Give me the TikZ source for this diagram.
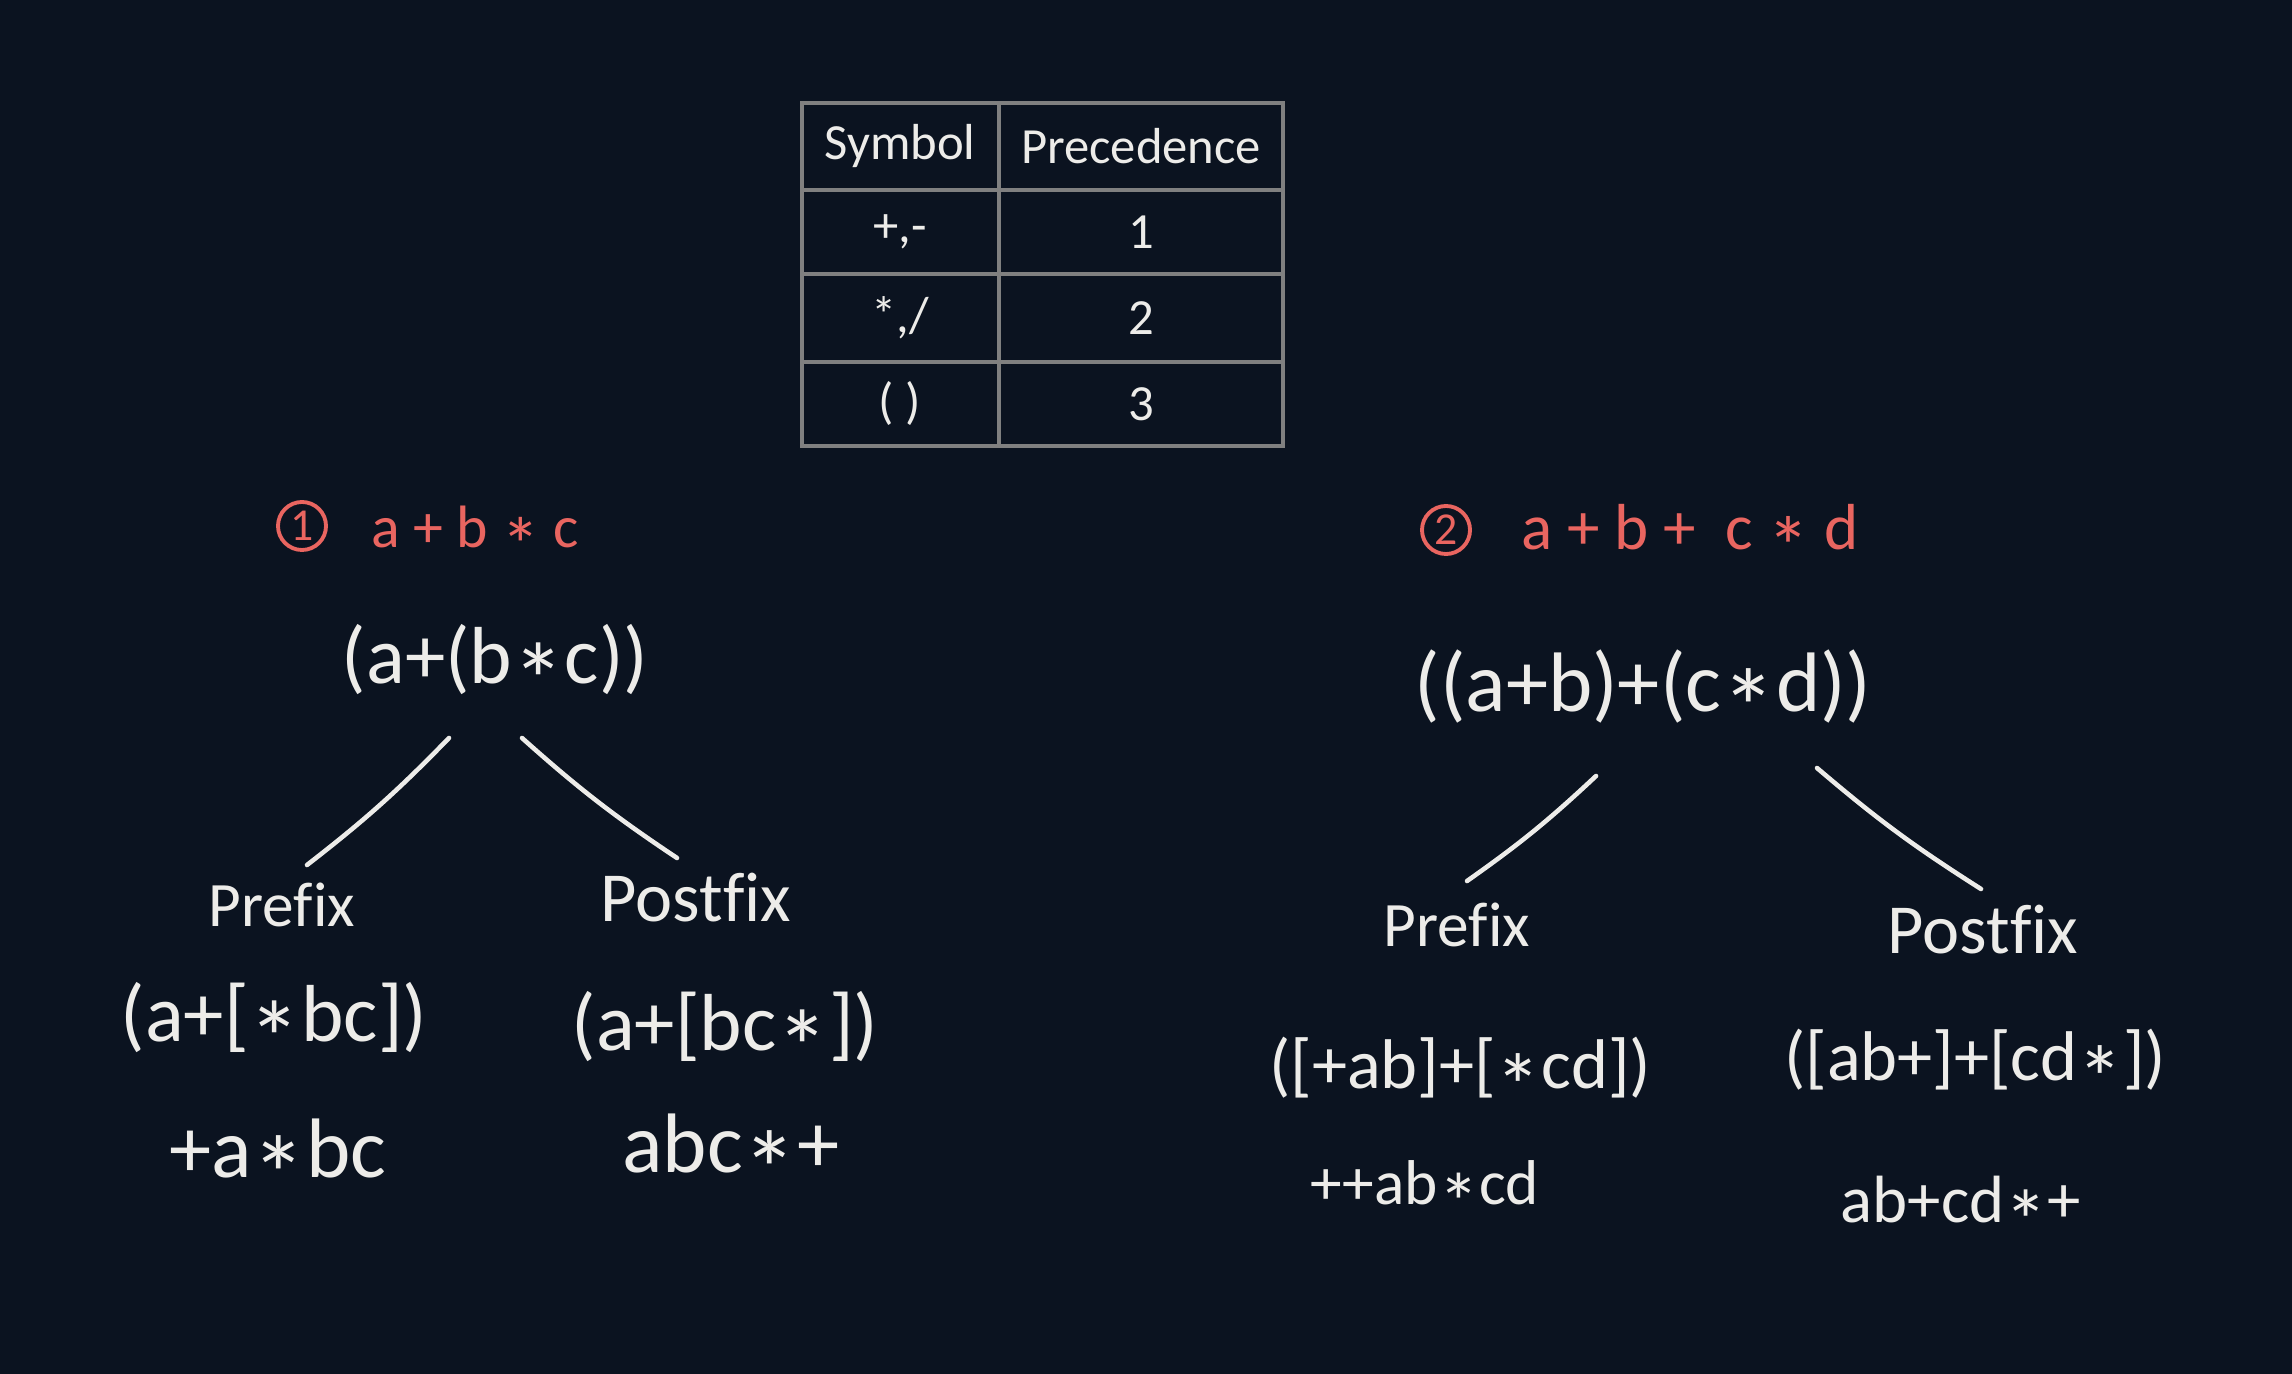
\documentclass[tikz,border=0pt]{standalone}
\usepackage{fontspec}
\setmainfont{Carlito}[Ligatures=NoCommon]

\definecolor{board}{RGB}{11,19,32}
\definecolor{chalk}{RGB}{237,236,233}
\definecolor{marker}{RGB}{233,101,96}
\definecolor{rulegray}{RGB}{128,128,128}
\newcommand\mul{\raisebox{-0.42em}[0pt][0pt]{\scalebox{1.3}{*}}}

\begin{document}
\begin{tikzpicture}[x=0.01cm,y=-0.01cm,
    cell/.style={text=chalk,font=\fontsize{14.4}{17}\selectfont},
    hand/.style={text=chalk,inner sep=0pt,font=\fontsize{#1}{#1}\selectfont},
    tag/.style={circle,draw=marker,line width=1.1pt,text=marker,minimum size=0.48cm,inner sep=0pt,font=\fontsize{13}{13}\selectfont},
    title/.style={text=marker,inner sep=0pt,font=\fontsize{#1}{#1}\selectfont},
    branch/.style={chalk,line width=1.3pt,line cap=round}]

    \fill [board] (0,0) rectangle (2292,1374);

    % precedence table
    \draw [rulegray,line width=0.9pt] (802,103) rectangle (1283,446);
    \draw [rulegray,line width=0.9pt] (999,103)--(999,446);
    \foreach \y in {190,274,362}
        \draw [rulegray,line width=0.9pt] (802,\y)--(1283,\y);
    \node [cell] (sym)   at (900,146)  {Symbol};
    \node [cell] (prec)  at (1141,146) {Precedence};
    \node [cell] (plus)  at (900,232)  {+,-};
    \node [cell] (one)   at (1141,232) {1};
    \node [cell] (times) at (900,318)  {*,/};
    \node [cell] (two)   at (1141,318) {2};
    \node [cell] (paren) at (900,404)  {( )};
    \node [cell] (three) at (1141,404) {3};

    % example 1
    \node [tag] (num1) at (302,526) {1};
    \node [title=17] (expr1) at (475,527) {a + b \mul{} c};
    \node [hand=23] (root1) at (495,660) {(a+(b\mul c))};
    \node [hand=18] (pre1) at (282,905) {Prefix};
    \node [hand=20] (post1) at (696,898) {Postfix};
    \node [hand=23] (step1) at (274,1018) {(a+[\mul bc])};
    \node [hand=23] (step2) at (725,1027) {(a+[bc\mul])};
    \node [hand=24] (res1) at (278,1149) {+a\mul bc};
    \node [hand=24] (res2) at (731,1144) {abc\mul+};
    \draw [branch] ([shift={(-46,78)}]root1.center) to[bend left=4] ([shift={(25,-40)}]pre1.center);
    \draw [branch] ([shift={(27,78)}]root1.center) to[bend right=4] ([shift={(-19,-40)}]post1.center);

    % example 2
    \node [tag] (num2) at (1446,530) {2};
    \node [title=18.5] (expr2) at (1690,527) {a + b +~~c \mul{} d};
    \node [hand=24] (root2) at (1643,686) {((a+b)+(c\mul d))};
    \node [hand=18] (pre2) at (1457,925) {Prefix};
    \node [hand=20] (post2) at (1983,930) {Postfix};
    \node [hand=20] (step3) at (1460,1068) {([+ab]+[\mul cd])};
    \node [hand=20] (step4) at (1975,1060) {([ab+]+[cd\mul])};
    \node [hand=18] (res3) at (1425,1183) {++ab\mul cd};
    \node [hand=19] (res4) at (1961,1200) {ab+cd\mul+};
    \draw [branch] ([shift={(-47,90)}]root2.center) to[bend left=4] ([shift={(10,-44)}]pre2.center);
    \draw [branch] ([shift={(174,82)}]root2.center) to[bend right=4] ([shift={(-2,-41)}]post2.center);
\end{tikzpicture}
\end{document}
